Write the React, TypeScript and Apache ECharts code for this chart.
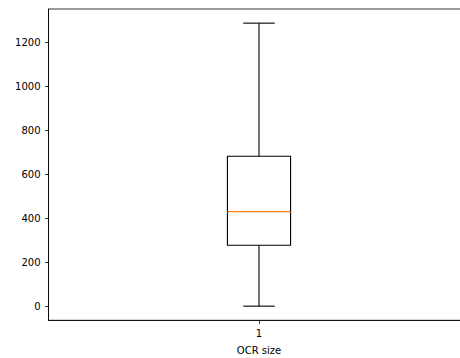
import React, { useEffect, useRef } from "react";
import * as echarts from "echarts";

const categories = ["1"];
// [lower whisker, Q1, median, Q3, upper whisker]
const boxStats = [[0, 277, 430, 682, 1288]];
const yTicks = [0, 200, 400, 600, 800, 1000, 1200];
const xTitle = "OCR size";

export default function App() {
  const ref = useRef<HTMLDivElement>(null);
  useEffect(() => {
    if (!ref.current) return;
    const chart = echarts.init(ref.current, null, { renderer: "svg" });
    const font = "DejaVu Sans";
    chart.setOption({
      animation: false,
      backgroundColor: "#fff",
      grid: {
        left: 48.5,
        top: 9,
        right: -9.5,
        bottom: 37.7,
        outerBoundsMode: "none",
        containLabel: false,
        show: true,
        borderColor: "#000",
        borderWidth: 0.8,
        backgroundColor: "transparent",
      },
      xAxis: {
        type: "category",
        data: categories,
        boundaryGap: true,
        name: xTitle,
        nameLocation: "middle",
        nameGap: 25,
        nameTextStyle: { fontFamily: font, fontSize: 10, color: "#000" },
        axisLine: { show: true, onZero: false, lineStyle: { color: "#000", width: 0.8 } },
        axisTick: { show: true, alignWithLabel: true, length: 3.5, lineStyle: { color: "#000", width: 0.8 } },
        axisLabel: { fontFamily: font, fontSize: 10, color: "#000", margin: 8 },
        splitLine: { show: false },
      },
      yAxis: {
        type: "value",
        min: -64.4,
        max: 1352.4,
        axisLine: { show: true, onZero: false, lineStyle: { color: "#000", width: 0.8 } },
        axisTick: { show: true, length: 3.5, customValues: yTicks, lineStyle: { color: "#000", width: 0.8 } },
        axisLabel: {
          fontFamily: font,
          fontSize: 10,
          color: "#000",
          margin: 8,
          customValues: yTicks,
          formatter: (v: number) => String(v),
        },
        splitLine: { show: false },
      },
      series: [
        {
          type: "custom",
          data: boxStats.map((s, i) => [i, ...s]),
          encode: { x: 0, y: [1, 2, 3, 4, 5] },
          renderItem: (params: any, api: any) => {
            const idx = api.value(0);
            const lo = api.value(1);
            const q1 = api.value(2);
            const med = api.value(3);
            const q3 = api.value(4);
            const hi = api.value(5);
            const band = api.size([1, 0])[0];
            const bw = band * 0.15;
            const cw = bw / 2;
            const pLo = api.coord([idx, lo]);
            const pQ1 = api.coord([idx, q1]);
            const pMed = api.coord([idx, med]);
            const pQ3 = api.coord([idx, q3]);
            const pHi = api.coord([idx, hi]);
            const cx = pLo[0];
            const black = { stroke: "#000", lineWidth: 1.1, fill: "none" };
            return {
              type: "group",
              children: [
                { type: "line", shape: { x1: cx, y1: pLo[1], x2: cx, y2: pQ1[1] }, style: black },
                { type: "line", shape: { x1: cx, y1: pQ3[1], x2: cx, y2: pHi[1] }, style: black },
                { type: "line", shape: { x1: cx - cw / 2, y1: pLo[1], x2: cx + cw / 2, y2: pLo[1] }, style: black },
                { type: "line", shape: { x1: cx - cw / 2, y1: pHi[1], x2: cx + cw / 2, y2: pHi[1] }, style: black },
                { type: "rect", shape: { x: cx - bw / 2, y: pQ3[1], width: bw, height: pQ1[1] - pQ3[1] }, style: black },
                { type: "line", shape: { x1: cx - bw / 2, y1: pMed[1], x2: cx + bw / 2, y2: pMed[1] }, style: { stroke: "#ff7f0e", lineWidth: 1.3 } },
              ],
            };
          },
        },
      ],
    });
    return () => chart.dispose();
  }, []);
  return <div ref={ref} style={{ width: 460, height: 358, position: "absolute", left: 0, top: 0 }} />;
}
